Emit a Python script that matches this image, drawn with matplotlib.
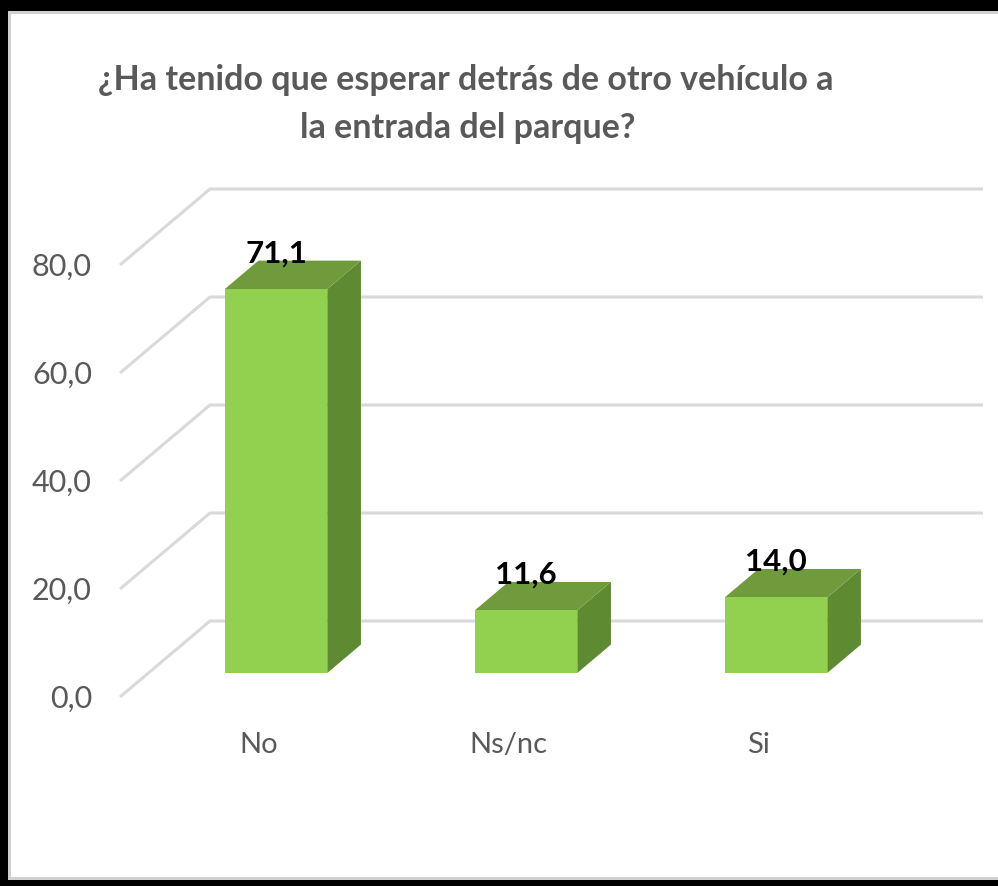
import matplotlib
matplotlib.use("Agg")
import matplotlib.pyplot as plt
from matplotlib.patches import Polygon, Rectangle

# ---- data ----
categories = ["No", "Ns/nc", "Si"]
values = [71.1, 11.6, 14.0]
value_labels = ["71,1", "11,6", "14,0"]
ticks = [0, 20, 40, 60, 80]
tick_labels = ["0,0", "20,0", "40,0", "60,0", "80,0"]
title_lines = ["¿Ha tenido que esperar detrás de otro vehículo a",
               "la entrada del parque?"]

# ---- styles / geometry ----
W, H, DPI = 998, 886, 100
X0 = 247.6          # px of category 0 (front plane)
XS = 250.0          # px per category
Y0 = 697.0          # px (from top) of value 0 on front plane
YS = 5.4            # px per value unit
DX, DY = 90 / XS, 76 / YS     # depth offset in data units
F1, F2 = 0.316, 0.69          # bar depth placement
HW = 0.205                    # bar half width
GRID = "#D9D9D9"
TXT = "#595959"
FRONT, SIDE, TOP = "#92D050", "#5E8A32", "#6F9B3C"
FAM = ["Lato", "DejaVu Sans"]

fig = plt.figure(figsize=(W / DPI, H / DPI), dpi=DPI)
ax = fig.add_axes([0, 0, 1, 1])
ax.set_xlim((0 - X0) / XS, (W - X0) / XS)
ax.set_ylim((Y0 - H) / YS, Y0 / YS)
ax.axis("off")

# gridlines (floor diagonal + back wall)
XL = (120 - X0) / XS
XR = (983 - X0) / XS
for t in ticks:
    ax.plot([XL, XL + DX, XR], [t, t + DY, t + DY], color=GRID, lw=2.2,
            solid_capstyle="butt", zorder=1)

# bars
for i, v in enumerate(values):
    c = i
    xl, xr = c - HW, c + HW
    front = [(xl + F1 * DX, F1 * DY), (xr + F1 * DX, F1 * DY),
             (xr + F1 * DX, v + F1 * DY), (xl + F1 * DX, v + F1 * DY)]
    side = [(xr + F1 * DX, F1 * DY), (xr + F2 * DX, F2 * DY),
            (xr + F2 * DX, v + F2 * DY), (xr + F1 * DX, v + F1 * DY)]
    top = [(xl + F1 * DX, v + F1 * DY), (xr + F1 * DX, v + F1 * DY),
           (xr + F2 * DX, v + F2 * DY), (xl + F2 * DX, v + F2 * DY)]
    ax.add_patch(Polygon(side, closed=True, facecolor=SIDE, edgecolor="none", zorder=3))
    ax.add_patch(Polygon(top, closed=True, facecolor=TOP, edgecolor="none", zorder=3))
    ax.add_patch(Polygon(front, closed=True, facecolor=FRONT, edgecolor="none", zorder=4))
    ax.annotate(value_labels[i], xy=(c + F1 * DX, v + F2 * DY), xytext=(0, 5),
                textcoords="offset points", ha="center", va="center",
                fontsize=22.5, fontweight="bold", color="black",
                family=FAM, zorder=6)

# tick labels
for t, lab in zip(ticks, tick_labels):
    ax.text((92 - X0) / XS, t - 0.4, lab, ha="right", va="center",
            fontsize=22, color=TXT, family=FAM)

# category labels
for i, lab in enumerate(categories):
    ax.text(i + 0.045, (Y0 - 745) / YS, lab, ha="center", va="center",
            fontsize=21, color=TXT, family=FAM)

# title
fig.text(466 / W, 1 - 80 / H, title_lines[0], ha="center", va="center",
         fontsize=24.5, fontweight="bold", color=TXT, family=FAM)
fig.text(468 / W, 1 - 128 / H, title_lines[1], ha="center", va="center",
         fontsize=24.5, fontweight="bold", color=TXT, family=FAM)

# frame decoration (screenshot border)
def frect(x, y, w, h, color):
    fig.patches.append(Rectangle((x / W, 1 - (y + h) / H), w / W, h / H,
                                 transform=fig.transFigure, facecolor=color,
                                 edgecolor="none", zorder=10))

frect(0, 0, W, 11, "black")
frect(0, 0, 8, H, "black")
frect(0, 880, W, 6, "black")
frect(8, 11, W - 8, 3, "#D0D0D0")
frect(8, 11, 3, 869, "#D0D0D0")
frect(8, 877, W - 8, 3, "#D0D0D0")

fig.savefig("out.png", dpi=DPI)
